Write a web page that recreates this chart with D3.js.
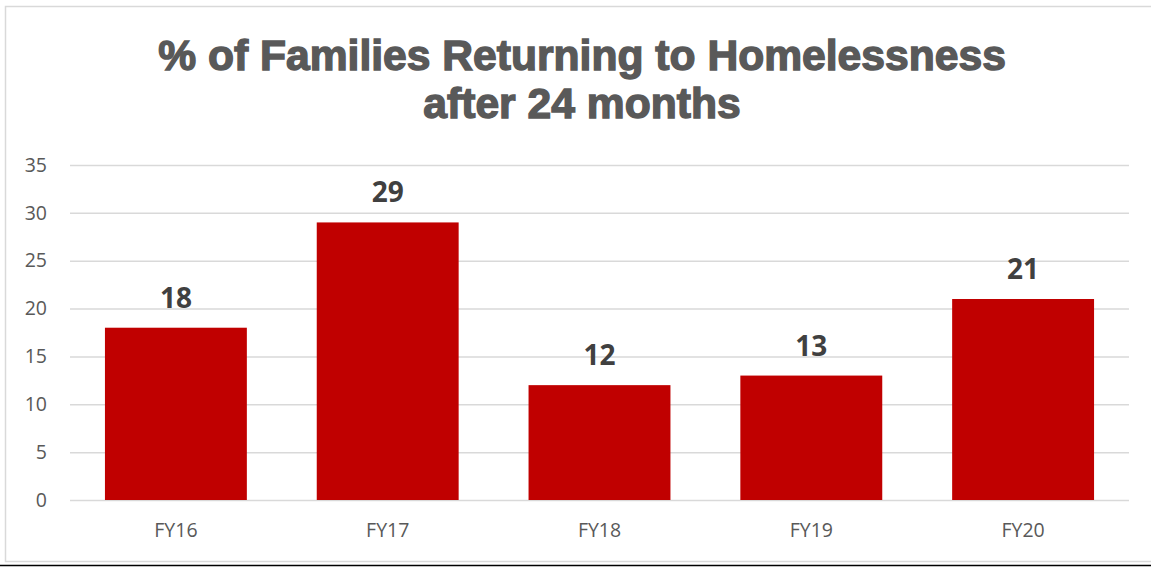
<!DOCTYPE html>
<html>
  <head>
    <meta charset="utf-8">
    <script src="https://d3js.org/d3.v7.min.js"></script>
    <style>
     body { margin: 0; background: #fff; }
     .axis text { font-family: "Open Sans", sans-serif; font-size: 19.5px; fill: #595959; }
     .grid line { stroke: #d9d9d9; stroke-width: 1.5; }
    </style>
  </head>
  <body>
    <svg id="chart"></svg>
    <script>
     var categories = ["FY16", "FY17", "FY18", "FY19", "FY20"];
     var values = [18, 29, 12, 13, 21];
     var yTicks = [0, 5, 10, 15, 20, 25, 30, 35];
     var titleLines = ["% of Families Returning to Homelessness", "after 24 months"];

     var W = 1151, H = 567;
     var margin = {top: 165, right: 22, bottom: 67, left: 70};
     var width = W - margin.left - margin.right,
         height = H - margin.top - margin.bottom;

     var root = d3.select("#chart").attr("width", W).attr("height", H);

     // chart frame
     root.append("rect")
	 .attr("x", 5.5).attr("y", 6.5)
	 .attr("width", W).attr("height", 555)
	 .style("fill", "none").style("stroke", "#d9d9d9").style("stroke-width", 1.5);
     root.append("line")
	 .attr("x1", 0).attr("x2", W).attr("y1", 565.5).attr("y2", 565.5)
	 .style("stroke", "#000").style("stroke-width", 1.5);

     // title (heavy face approximated with a stroke)
     var title = root.append("g");
     titleLines.forEach(function(t, i) {
	 title.append("text")
	      .attr("x", 582).attr("y", 70 + i * 48)
	      .attr("text-anchor", "middle")
	      .style("font-family", "'Liberation Sans', Arial, sans-serif")
	      .style("font-weight", "bold")
	      .style("font-size", "40px")
	      .style("fill", "#595959")
	      .style("stroke", "#595959")
	      .style("stroke-width", 1.4)
	      .text(t);
     });
     // fit the first line to the reference width, use same scale for both
     var first = title.select("text").node();
     var k = 848 / first.getComputedTextLength();
     title.selectAll("text").style("font-size", (40 * k) + "px");

     var svg = root.append("g")
		   .attr("transform", "translate(" + margin.left + "," + margin.top + ")");

     var xScale = d3.scaleBand()
		    .domain(categories)
		    .range([0, width])
		    .paddingInner(0.33)
		    .paddingOuter(0.165);
     var yScale = d3.scaleLinear()
		    .domain([0, 35])
		    .range([height, 0]);

     svg.append("g")
	.attr("class", "grid")
	.call(d3.axisLeft(yScale).tickValues(yTicks).tickSize(-width).tickFormat(""))
	.call(function(g) { g.select(".domain").remove(); });

     svg.append("g")
	.attr("class", "y axis")
	.call(d3.axisLeft(yScale).tickValues(yTicks).tickSize(0).tickPadding(23))
	.call(function(g) { g.select(".domain").remove(); });

     svg.append("g")
	.attr("class", "x axis")
	.attr("transform", "translate(0," + height + ")")
	.call(d3.axisBottom(xScale).tickSize(0).tickPadding(23))
	.call(function(g) { g.select(".domain").remove(); });

     svg.selectAll(".bar")
	.data(values)
	.enter()
	.append("rect")
	.attr("class", "bar")
	.attr("x", function(d, i) { return xScale(categories[i]); })
	.attr("y", function(d) { return yScale(d); })
	.attr("width", xScale.bandwidth())
	.attr("height", function(d) { return height - yScale(d); })
	.style("fill", "#c00000");

     svg.selectAll(".label")
	.data(values)
	.enter()
	.append("text")
	.attr("class", "label")
	.attr("x", function(d, i) { return xScale(categories[i]) + xScale.bandwidth() / 2; })
	.attr("y", function(d) { return yScale(d) - 20; })
	.attr("text-anchor", "middle")
	.style("font-family", "'Open Sans', sans-serif")
	.style("font-weight", "bold")
	.style("font-size", "28px")
	.style("fill", "#404040")
	.text(function(d) { return d; });
    </script>
  </body>
</html>
